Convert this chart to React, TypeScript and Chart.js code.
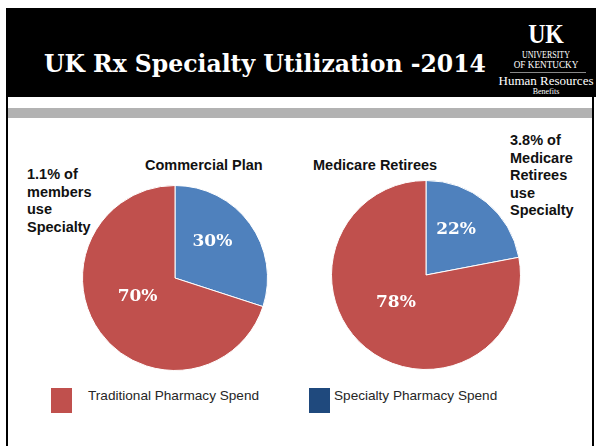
import React, { useEffect, useRef } from 'react';
import { Chart, PieController, ArcElement } from 'chart.js';

Chart.register(PieController, ArcElement);

// ---- data ----
const seriesNames = ['Specialty Pharmacy Spend', 'Traditional Pharmacy Spend'];
const commercialValues = [30, 70];
const medicareValues = [22, 78];
const sliceColors = ['#4F81BD', '#C0504D'];
const legendOrder = [1, 0];
const legendColors = ['#1F497D', '#C0504D'];
const titleText = 'UK Rx Specialty Utilization -2014';
const commercialTitle = 'Commercial Plan';
const medicareTitle = 'Medicare Retirees';
const commercialNote = ['1.1% of', 'members', 'use', 'Specialty'];
const medicareNote = ['3.8% of', 'Medicare', 'Retirees', 'use', 'Specialty'];

const pctLabels = {
  id: 'pctLabels',
  afterDatasetsDraw(chart: any) {
    const ctx = chart.ctx;
    const meta = chart.getDatasetMeta(0);
    const data = chart.data.datasets[0].data;
    ctx.save();
    ctx.fillStyle = '#ffffff';
    ctx.font = 'bold 17px "DejaVu Serif"';
    ctx.textAlign = 'center';
    ctx.textBaseline = 'middle';
    meta.data.forEach((arc: any, i: number) => {
      const p = arc.tooltipPosition(false);
      ctx.fillText(data[i] + '%', p.x, p.y - 9);
    });
    ctx.restore();
  },
};

function Pie({ values, left, top, size }: { values: number[]; left: number; top: number; size: number }) {
  const ref = useRef<HTMLCanvasElement>(null);
  useEffect(() => {
    const chart = new Chart(ref.current as HTMLCanvasElement, {
      type: 'pie',
      data: {
        labels: seriesNames,
        datasets: [
          {
            data: values,
            backgroundColor: sliceColors,
            borderColor: '#ffffff',
            borderWidth: 1,
          },
        ],
      },
      options: {
        animation: false,
        responsive: true,
        maintainAspectRatio: false,
        layout: { padding: 0 },
        events: [],
        plugins: { legend: { display: false }, tooltip: { enabled: false } },
      },
      plugins: [pctLabels],
    });
    return () => chart.destroy();
  }, [values]);
  return (
    <div style={{ position: 'absolute', left, top, width: size, height: size }}>
      <canvas ref={ref} />
    </div>
  );
}

const sans = '"Liberation Sans", Arial, sans-serif';
const serif = '"Liberation Serif", "Times New Roman", serif';

export default function App() {
  return (
    <div
      style={{
        position: 'fixed',
        left: 0,
        top: 0,
        width: 596,
        height: 446,
        background: '#ffffff',
        overflow: 'hidden',
      }}
    >
      {/* header */}
      <div style={{ position: 'absolute', left: 6, top: 8, width: 590, height: 89, background: '#000' }} />
      <div style={{ position: 'absolute', left: 6, top: 8, width: 2, height: 438, background: '#000' }} />
      <div style={{ position: 'absolute', left: 592, top: 97, width: 2, height: 349, background: '#000' }} />
      <div style={{ position: 'absolute', left: 8, top: 108, width: 584, height: 10, background: '#B2B2B2' }} />
      <div
        style={{
          position: 'absolute',
          left: 44,
          top: 49,
          lineHeight: '30px',
          color: '#fff',
          fontFamily: '"DejaVu Serif", serif',
          fontWeight: 'bold',
          fontSize: 23.5,
          whiteSpace: 'nowrap',
        }}
      >
        {titleText}
      </div>
      {/* logo */}
      <div
        style={{
          position: 'absolute',
          left: 496,
          top: 19,
          width: 100,
          textAlign: 'center',
          color: '#fff',
          fontFamily: serif,
        }}
      >
        <div style={{ fontWeight: 'bold', fontSize: 28, lineHeight: '30px', transform: 'scaleX(0.85)' }}>UK</div>
        <div style={{ fontSize: 10, lineHeight: '10px', marginTop: 1, transform: 'scaleX(0.8)' }}>UNIVERSITY</div>
        <div style={{ fontSize: 10, lineHeight: '10px', transform: 'scaleX(0.92)' }}>OF KENTUCKY</div>
        <div style={{ height: 1, background: '#888', margin: '2px 10px 1px 14px' }} />
        <div style={{ fontSize: 13, lineHeight: '13px', whiteSpace: 'nowrap' }}>Human Resources</div>
        <div style={{ fontSize: 8, lineHeight: '10px' }}>Benefits</div>
      </div>

      {/* chart titles & notes */}
      <div style={{ position: 'absolute', left: 145, top: 156, lineHeight: '18px', fontFamily: sans, fontWeight: 'bold', fontSize: 14.5, color: '#111', whiteSpace: 'nowrap' }}>
        {commercialTitle}
      </div>
      <div style={{ position: 'absolute', left: 313, top: 156, lineHeight: '18px', fontFamily: sans, fontWeight: 'bold', fontSize: 14.5, color: '#111', whiteSpace: 'nowrap' }}>
        {medicareTitle}
      </div>
      <div style={{ position: 'absolute', left: 27, top: 166, lineHeight: '17.7px', fontFamily: sans, fontWeight: 'bold', fontSize: 14.5, color: '#111', whiteSpace: 'nowrap' }}>
        {commercialNote.map((t) => (
          <div key={t}>{t}</div>
        ))}
      </div>
      <div style={{ position: 'absolute', left: 510, top: 132, lineHeight: '17.6px', fontFamily: sans, fontWeight: 'bold', fontSize: 14.5, color: '#111', whiteSpace: 'nowrap' }}>
        {medicareNote.map((t) => (
          <div key={t}>{t}</div>
        ))}
      </div>

      <Pie values={commercialValues} left={81.5} top={185} size={186} />
      <Pie values={medicareValues} left={330.5} top={180} size={190} />

      {/* legend */}
      {legendOrder.map((idx, k) => (
        <React.Fragment key={idx}>
          <div
            style={{
              position: 'absolute',
              left: k === 0 ? 51 : 309,
              top: 388,
              width: 21,
              height: 25,
              background: legendColors[idx],
            }}
          />
          <div
            style={{
              position: 'absolute',
              left: k === 0 ? 88 : 334,
              top: 387,
              lineHeight: '18px',
              fontFamily: sans,
              fontSize: 13.6,
              color: '#262626',
              whiteSpace: 'nowrap',
            }}
          >
            {seriesNames[idx]}
          </div>
        </React.Fragment>
      ))}
    </div>
  );
}
